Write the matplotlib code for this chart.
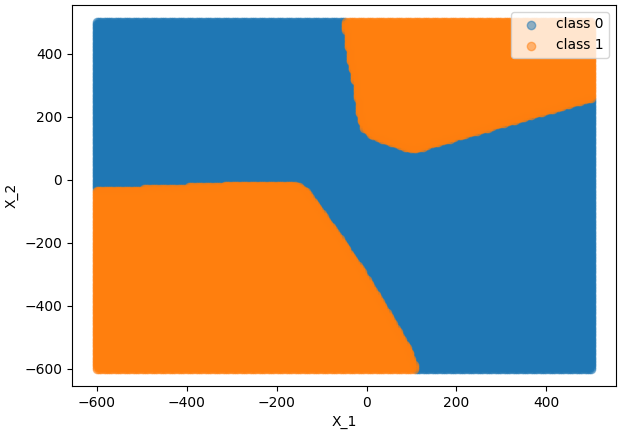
import numpy as np
import matplotlib
matplotlib.use("Agg")
import matplotlib.pyplot as plt
from matplotlib.path import Path

# grid of sample points (X_1, X_2)
x1_values = np.arange(-600, 501, 5)
x2_values = np.arange(-600, 501, 5)

# decision regions for class 1
lower_region_x = [-610, -500, -400, -300, -160, -139, -73, -13, 63, 96, 110, -610]
lower_region_y = [-33, -30, -25, -19, -18, -31, -160, -288, -465, -550, -610, -610]
upper_region_x = [-48, -37, -26, -17, -6, 12, 63, 104, 497, 510, 510]
upper_region_y = [510, 380, 326, 220, 165, 141, 115, 96, 259, 259, 510]

class_labels = ["class 0", "class 1"]

xx, yy = np.meshgrid(x1_values, x2_values)
pts = np.column_stack([xx.ravel(), yy.ravel()])

lower = Path(np.column_stack([lower_region_x, lower_region_y]))
upper = Path(np.column_stack([upper_region_x, upper_region_y]))
is_one = lower.contains_points(pts) | upper.contains_points(pts)

fig, ax = plt.subplots(figsize=(6.21, 4.36), dpi=100)
fig.subplots_adjust(left=0.116, right=0.992, top=0.989, bottom=0.115)

ax.scatter(pts[~is_one, 0], pts[~is_one, 1], alpha=0.5, label=class_labels[0])
ax.scatter(pts[is_one, 0], pts[is_one, 1], alpha=0.5, label=class_labels[1])

ax.set_xlabel("X_1")
ax.set_ylabel("X_2")
ax.legend(loc="upper right")

fig.savefig("out.png", dpi=100)
